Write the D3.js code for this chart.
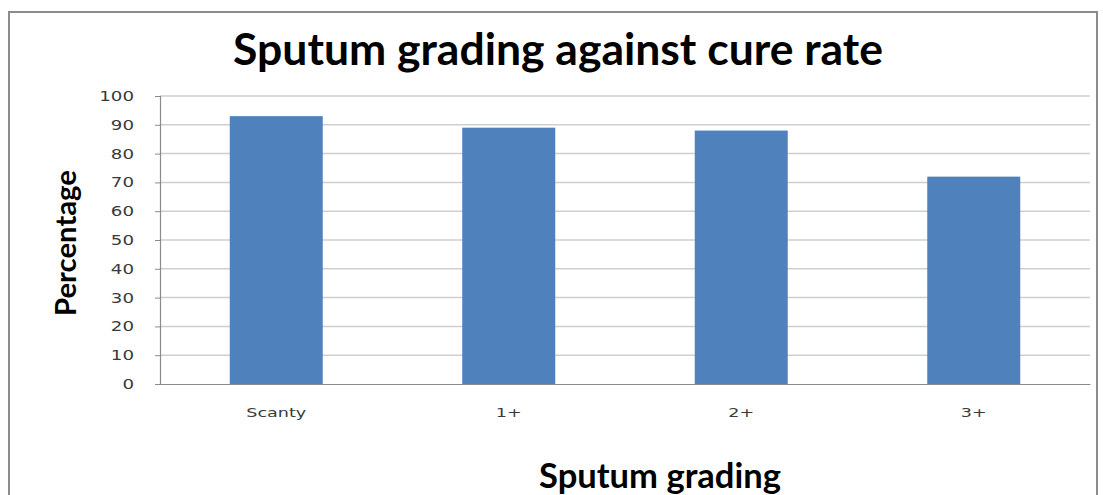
<!DOCTYPE html>
<html><head><meta charset="utf-8">
<script src="https://cdn.jsdelivr.net/npm/d3@7"></script>
<style>body{margin:0;background:#fff}svg{display:block}</style>
</head><body>
<svg id="c" width="1103" height="495"></svg>
<script>
const categories = ["Scanty", "1+", "2+", "3+"];
const cureRate = [93, 89, 88, 72];
const yTicks = [0, 10, 20, 30, 40, 50, 60, 70, 80, 90, 100];
const titleText = "Sputum grading against cure rate";
const xTitle = "Sputum grading";
const yTitle = "Percentage";

const svg = d3.select("#c");
const W = 1103, H = 495;
const m = {left: 160, right: 13, top: 96, bottom: 111};
const x = d3.scaleBand().domain(categories).range([m.left, W - m.right]).padding(0);
const y = d3.scaleLinear().domain([0, 100]).range([H - m.bottom, m.top]);

// outer chart border
svg.append("rect").attr("x", 9).attr("y", 12).attr("width", 1088).attr("height", 500)
  .attr("fill", "#fff").attr("stroke", "#8c8c8c").attr("stroke-width", 2);

// gridlines
svg.append("g").selectAll("line").data(yTicks.filter(d => d > 0)).join("line")
  .attr("x1", m.left).attr("x2", W - m.right)
  .attr("y1", d => y(d)).attr("y2", d => y(d))
  .attr("stroke", "#cfcfcf").attr("stroke-width", 1.5);

// bars
const bw = x.bandwidth() * 0.4;
svg.append("g").selectAll("rect").data(categories).join("rect")
  .attr("x", (d) => x(d) + (x.bandwidth() - bw) / 2)
  .attr("y", (d, i) => y(cureRate[i]))
  .attr("width", bw)
  .attr("height", (d, i) => y(0) - y(cureRate[i]))
  .attr("fill", "#4f81bd");

function stretch(sel, k) {
  sel.each(function() {
    const len = this.getComputedTextLength();
    d3.select(this).attr("textLength", len * k).attr("lengthAdjust", "spacingAndGlyphs");
  });
}

// y axis
const ya = svg.append("g").attr("transform", `translate(${m.left},0)`)
  .call(d3.axisLeft(y).tickValues(yTicks).tickSize(5).tickPadding(21));
ya.select(".domain").attr("stroke", "#8a8a8a").attr("stroke-width", 1.2);
ya.selectAll(".tick line").attr("stroke", "#8a8a8a");
ya.selectAll("text").attr("font-family", "DejaVu Sans").attr("font-size", 14).attr("fill", "#3a3a3a");
stretch(ya.selectAll("text"), 1.3);

// x axis
const xa = svg.append("g").attr("transform", `translate(0,${y(0)})`)
  .call(d3.axisBottom(x).tickSize(0).tickPadding(24));
xa.select(".domain").attr("stroke", "#8a8a8a").attr("stroke-width", 1.2);
xa.selectAll("text").attr("font-family", "DejaVu Sans").attr("font-size", 13).attr("fill", "#3a3a3a");
stretch(xa.selectAll("text"), 1.35);

function fitText(sel, target) {
  const len = sel.node().getComputedTextLength();
  const fs = parseFloat(sel.attr("font-size"));
  sel.attr("font-size", fs * target / len);
}

const t = svg.append("text").attr("x", 558).attr("y", 65).attr("text-anchor", "middle")
  .attr("font-family", "Lato").attr("font-weight", "bold").attr("font-size", 30)
  .attr("fill", "#000").text(titleText);
fitText(t, 650);

const xt = svg.append("text").attr("x", 660).attr("y", 488).attr("text-anchor", "middle")
  .attr("font-family", "Lato").attr("font-weight", "bold").attr("font-size", 24)
  .attr("fill", "#000").text(xTitle);
fitText(xt, 242);

const yt = svg.append("text").attr("transform", "translate(76,243) rotate(-90)")
  .attr("text-anchor", "middle")
  .attr("font-family", "Lato").attr("font-weight", "bold").attr("font-size", 22)
  .attr("fill", "#000").text(yTitle);
fitText(yt, 146);
</script>
</body></html>
